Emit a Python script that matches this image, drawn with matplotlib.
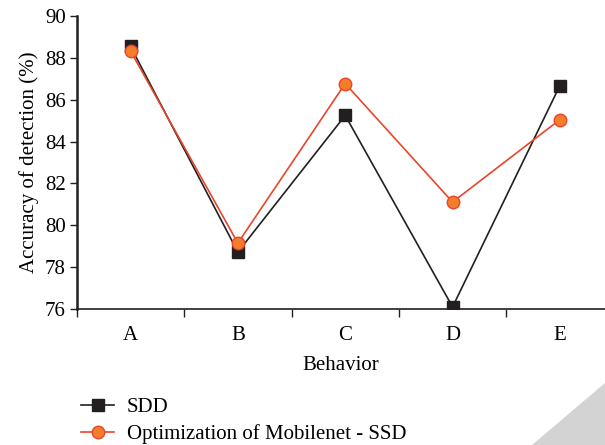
import numpy as np
import matplotlib.pyplot as plt
from matplotlib.patches import Polygon

categories = ['A', 'B', 'C', 'D', 'E']
sdd = [88.55, 78.72, 85.25, 76.1, 86.68]
mobilenet_ssd = [88.33, 79.15, 86.77, 81.11, 85.05]

plt.rcParams['font.family'] = ['Liberation Serif', 'DejaVu Serif']

fig = plt.figure(figsize=(6.05, 4.45), dpi=100)
ax = fig.add_axes([0.127, 0.3056, 0.873, 0.6584])

x = np.arange(len(categories))
ax.plot(x, sdd, color='#231f20', linewidth=1.2, marker='s', markersize=8,
        markerfacecolor='#231f20', markeredgecolor='#231f20', label='SDD', zorder=3)
ax.plot(x, mobilenet_ssd, color='#e8462a', linewidth=1.2, marker='o', markersize=9,
        markerfacecolor='#f47d2c', markeredgecolor='#e8462a', label='Optimization of Mobilenet - SSD', zorder=4)

ax.set_xlim(-0.5, 4.42)
ax.set_ylim(76, 90)
ax.set_yticks(np.arange(76, 91, 2))
ax.set_xticks(x)
ax.set_xticklabels(categories)
ax.set_xticks(np.arange(-0.5, 4.5, 1), minor=True)
ax.tick_params(axis='x', which='major', length=0, labelsize=15, pad=12)
ax.tick_params(axis='x', which='minor', length=6, width=1, direction='out', color='#231f20')
ax.tick_params(axis='y', length=5, width=1, direction='out', labelsize=15, color='#231f20', pad=3)
for s in ['top', 'right']:
    ax.spines[s].set_visible(False)
for s in ['left', 'bottom']:
    ax.spines[s].set_linewidth(1.2)
    ax.spines[s].set_color('#231f20')
ax.spines['left'].set_linewidth(1.8)

ax.set_xlabel('Behavior', fontsize=15, labelpad=8)
ax.set_ylabel('Accuracy of detection (%)', fontsize=15, labelpad=4)

fig.legend(loc='upper left', bbox_to_anchor=(0.12, 0.125), frameon=False,
           fontsize=15, handlelength=1.6, labelspacing=0.35, borderaxespad=0, handletextpad=0.6)

tri = Polygon([(532 / 605, 0), (1.0, 0), (1.0, 1 - 383 / 445)], closed=True,
              transform=fig.transFigure, facecolor='#d3d3d3', edgecolor='none')
fig.patches.append(tri)

fig.savefig('out.png', dpi=100)
